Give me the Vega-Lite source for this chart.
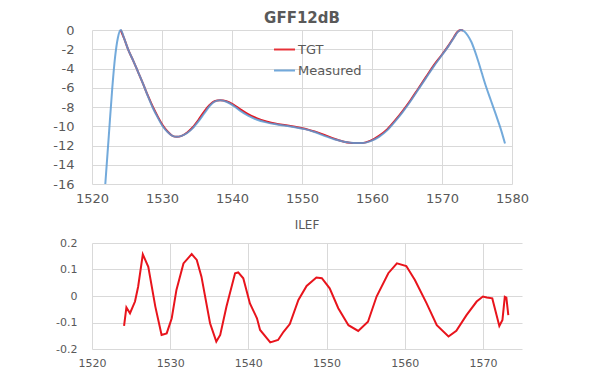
{
  "$schema": "https://vega.github.io/schema/vega-lite/v6.json",
  "padding": {"left": 52, "top": 11, "right": 5, "bottom": 5},
  "spacing": 14,
  "background": "white",
  "config": {
    "view": {"stroke": null},
    "font": "DejaVu Sans",
    "axis": {"gridColor": "#D9D9D9", "gridWidth": 1, "domain": false, "ticks": false, "tickSize": 0, "labelColor": "#595959", "labelFont": "DejaVu Sans", "title": null}
  },
  "datasets": {
    "gff": [
      {"wl": 1524.1, "db": 0, "series": "TGT"},
      {"wl": 1524.6, "db": -0.9, "series": "TGT"},
      {"wl": 1525.2, "db": -2.1, "series": "TGT"},
      {"wl": 1525.9, "db": -3.2, "series": "TGT"},
      {"wl": 1526.6, "db": -4.4, "series": "TGT"},
      {"wl": 1527.3, "db": -5.6, "series": "TGT"},
      {"wl": 1528.0, "db": -6.85, "series": "TGT"},
      {"wl": 1528.7, "db": -8.0, "series": "TGT"},
      {"wl": 1529.4, "db": -9.0, "series": "TGT"},
      {"wl": 1530.1, "db": -9.9, "series": "TGT"},
      {"wl": 1530.8, "db": -10.55, "series": "TGT"},
      {"wl": 1531.5, "db": -11.0, "series": "TGT"},
      {"wl": 1532.1, "db": -11.1, "series": "TGT"},
      {"wl": 1532.8, "db": -11.0, "series": "TGT"},
      {"wl": 1533.6, "db": -10.65, "series": "TGT"},
      {"wl": 1534.4, "db": -10.1, "series": "TGT"},
      {"wl": 1535.2, "db": -9.35, "series": "TGT"},
      {"wl": 1536.0, "db": -8.5, "series": "TGT"},
      {"wl": 1536.8, "db": -7.8, "series": "TGT"},
      {"wl": 1537.5, "db": -7.4, "series": "TGT"},
      {"wl": 1538.3, "db": -7.3, "series": "TGT"},
      {"wl": 1539.2, "db": -7.4, "series": "TGT"},
      {"wl": 1540.2, "db": -7.75, "series": "TGT"},
      {"wl": 1541.2, "db": -8.25, "series": "TGT"},
      {"wl": 1542.3, "db": -8.75, "series": "TGT"},
      {"wl": 1543.5, "db": -9.15, "series": "TGT"},
      {"wl": 1544.9, "db": -9.5, "series": "TGT"},
      {"wl": 1546.3, "db": -9.75, "series": "TGT"},
      {"wl": 1547.7, "db": -9.9, "series": "TGT"},
      {"wl": 1549.0, "db": -10.05, "series": "TGT"},
      {"wl": 1550.4, "db": -10.25, "series": "TGT"},
      {"wl": 1551.8, "db": -10.55, "series": "TGT"},
      {"wl": 1553.2, "db": -10.9, "series": "TGT"},
      {"wl": 1554.6, "db": -11.3, "series": "TGT"},
      {"wl": 1556.0, "db": -11.6, "series": "TGT"},
      {"wl": 1557.4, "db": -11.75, "series": "TGT"},
      {"wl": 1558.6, "db": -11.75, "series": "TGT"},
      {"wl": 1559.8, "db": -11.5, "series": "TGT"},
      {"wl": 1561.0, "db": -11.0, "series": "TGT"},
      {"wl": 1562.2, "db": -10.3, "series": "TGT"},
      {"wl": 1563.3, "db": -9.4, "series": "TGT"},
      {"wl": 1564.4, "db": -8.4, "series": "TGT"},
      {"wl": 1565.5, "db": -7.3, "series": "TGT"},
      {"wl": 1566.6, "db": -6.1, "series": "TGT"},
      {"wl": 1567.7, "db": -4.9, "series": "TGT"},
      {"wl": 1568.8, "db": -3.7, "series": "TGT"},
      {"wl": 1569.9, "db": -2.65, "series": "TGT"},
      {"wl": 1570.9, "db": -1.65, "series": "TGT"},
      {"wl": 1571.7, "db": -0.75, "series": "TGT"},
      {"wl": 1572.2, "db": -0.2, "series": "TGT"},
      {"wl": 1572.7, "db": 0, "series": "TGT"},
      {"wl": 1573.0, "db": -0.05, "series": "TGT"},
      {"wl": 1521.9, "db": -16, "series": "Measured"},
      {"wl": 1522.4, "db": -11, "series": "Measured"},
      {"wl": 1522.9, "db": -6, "series": "Measured"},
      {"wl": 1523.3, "db": -2.8, "series": "Measured"},
      {"wl": 1523.7, "db": -0.8, "series": "Measured"},
      {"wl": 1524.1, "db": 0, "series": "Measured"},
      {"wl": 1524.6, "db": -0.9, "series": "Measured"},
      {"wl": 1525.2, "db": -2.1, "series": "Measured"},
      {"wl": 1525.9, "db": -3.2, "series": "Measured"},
      {"wl": 1526.6, "db": -4.4, "series": "Measured"},
      {"wl": 1527.3, "db": -5.6, "series": "Measured"},
      {"wl": 1528.0, "db": -6.9, "series": "Measured"},
      {"wl": 1528.7, "db": -8.1, "series": "Measured"},
      {"wl": 1529.4, "db": -9.1, "series": "Measured"},
      {"wl": 1530.1, "db": -10.0, "series": "Measured"},
      {"wl": 1530.8, "db": -10.6, "series": "Measured"},
      {"wl": 1531.5, "db": -11.0, "series": "Measured"},
      {"wl": 1532.1, "db": -11.1, "series": "Measured"},
      {"wl": 1532.8, "db": -11.0, "series": "Measured"},
      {"wl": 1533.6, "db": -10.7, "series": "Measured"},
      {"wl": 1534.4, "db": -10.2, "series": "Measured"},
      {"wl": 1535.2, "db": -9.5, "series": "Measured"},
      {"wl": 1536.0, "db": -8.7, "series": "Measured"},
      {"wl": 1536.8, "db": -7.9, "series": "Measured"},
      {"wl": 1537.5, "db": -7.45, "series": "Measured"},
      {"wl": 1538.3, "db": -7.3, "series": "Measured"},
      {"wl": 1539.2, "db": -7.45, "series": "Measured"},
      {"wl": 1540.2, "db": -7.85, "series": "Measured"},
      {"wl": 1541.2, "db": -8.4, "series": "Measured"},
      {"wl": 1542.3, "db": -8.9, "series": "Measured"},
      {"wl": 1543.5, "db": -9.3, "series": "Measured"},
      {"wl": 1544.9, "db": -9.6, "series": "Measured"},
      {"wl": 1546.3, "db": -9.8, "series": "Measured"},
      {"wl": 1547.7, "db": -9.95, "series": "Measured"},
      {"wl": 1549.0, "db": -10.1, "series": "Measured"},
      {"wl": 1550.4, "db": -10.3, "series": "Measured"},
      {"wl": 1551.8, "db": -10.6, "series": "Measured"},
      {"wl": 1553.2, "db": -11.0, "series": "Measured"},
      {"wl": 1554.6, "db": -11.35, "series": "Measured"},
      {"wl": 1556.0, "db": -11.6, "series": "Measured"},
      {"wl": 1557.4, "db": -11.75, "series": "Measured"},
      {"wl": 1558.6, "db": -11.75, "series": "Measured"},
      {"wl": 1559.8, "db": -11.55, "series": "Measured"},
      {"wl": 1561.0, "db": -11.1, "series": "Measured"},
      {"wl": 1562.2, "db": -10.4, "series": "Measured"},
      {"wl": 1563.3, "db": -9.5, "series": "Measured"},
      {"wl": 1564.4, "db": -8.5, "series": "Measured"},
      {"wl": 1565.5, "db": -7.4, "series": "Measured"},
      {"wl": 1566.6, "db": -6.2, "series": "Measured"},
      {"wl": 1567.7, "db": -5.0, "series": "Measured"},
      {"wl": 1568.8, "db": -3.8, "series": "Measured"},
      {"wl": 1569.9, "db": -2.7, "series": "Measured"},
      {"wl": 1570.9, "db": -1.7, "series": "Measured"},
      {"wl": 1571.7, "db": -0.8, "series": "Measured"},
      {"wl": 1572.2, "db": -0.25, "series": "Measured"},
      {"wl": 1572.7, "db": 0, "series": "Measured"},
      {"wl": 1573.2, "db": -0.15, "series": "Measured"},
      {"wl": 1573.7, "db": -0.6, "series": "Measured"},
      {"wl": 1574.2, "db": -1.25, "series": "Measured"},
      {"wl": 1574.7, "db": -2.2, "series": "Measured"},
      {"wl": 1575.2, "db": -3.3, "series": "Measured"},
      {"wl": 1575.7, "db": -4.5, "series": "Measured"},
      {"wl": 1576.3, "db": -5.9, "series": "Measured"},
      {"wl": 1577.0, "db": -7.35, "series": "Measured"},
      {"wl": 1577.7, "db": -8.8, "series": "Measured"},
      {"wl": 1578.4, "db": -10.3, "series": "Measured"},
      {"wl": 1579.0, "db": -11.8, "series": "Measured"}
    ],
    "ilef": [
      {"wl": 1524.1, "v": -0.113},
      {"wl": 1524.4, "v": -0.043},
      {"wl": 1524.86, "v": -0.065},
      {"wl": 1525.5, "v": -0.021},
      {"wl": 1525.9, "v": 0.035},
      {"wl": 1526.5, "v": 0.157},
      {"wl": 1527.2, "v": 0.11},
      {"wl": 1528.1, "v": -0.04},
      {"wl": 1528.9, "v": -0.147},
      {"wl": 1529.55, "v": -0.141},
      {"wl": 1530.2, "v": -0.084},
      {"wl": 1530.8, "v": 0.023},
      {"wl": 1531.7, "v": 0.123},
      {"wl": 1532.75, "v": 0.158},
      {"wl": 1533.4, "v": 0.136},
      {"wl": 1534.0, "v": 0.073},
      {"wl": 1535.1, "v": -0.103},
      {"wl": 1535.9, "v": -0.172},
      {"wl": 1536.4, "v": -0.147},
      {"wl": 1537.2, "v": -0.04},
      {"wl": 1538.3, "v": 0.086},
      {"wl": 1538.7, "v": 0.089},
      {"wl": 1539.35, "v": 0.067},
      {"wl": 1540.2, "v": -0.028},
      {"wl": 1541.1, "v": -0.084},
      {"wl": 1541.5, "v": -0.128},
      {"wl": 1542.8, "v": -0.175},
      {"wl": 1543.8, "v": -0.166},
      {"wl": 1544.5, "v": -0.135},
      {"wl": 1545.3, "v": -0.106},
      {"wl": 1546.4, "v": -0.015},
      {"wl": 1547.45, "v": 0.038},
      {"wl": 1548.7, "v": 0.07},
      {"wl": 1549.4, "v": 0.067},
      {"wl": 1550.4, "v": 0.029},
      {"wl": 1551.5, "v": -0.046},
      {"wl": 1552.8, "v": -0.11},
      {"wl": 1554.05, "v": -0.132},
      {"wl": 1555.3, "v": -0.097},
      {"wl": 1556.4, "v": -0.002},
      {"wl": 1557.9, "v": 0.086},
      {"wl": 1559.0, "v": 0.123},
      {"wl": 1560.2, "v": 0.113},
      {"wl": 1561.3, "v": 0.06},
      {"wl": 1562.8, "v": -0.028},
      {"wl": 1564.1, "v": -0.11},
      {"wl": 1565.6, "v": -0.153},
      {"wl": 1566.6, "v": -0.131},
      {"wl": 1567.9, "v": -0.072},
      {"wl": 1569.2, "v": -0.021},
      {"wl": 1570.0, "v": -0.002},
      {"wl": 1570.5, "v": -0.006},
      {"wl": 1571.2, "v": -0.009},
      {"wl": 1572.1, "v": -0.113},
      {"wl": 1572.5, "v": -0.09},
      {"wl": 1572.8, "v": -0.003},
      {"wl": 1573.0, "v": -0.006},
      {"wl": 1573.25, "v": -0.072}
    ]
  },
  "vconcat": [
    {
      "width": 420,
      "height": 154,
      "title": {"text": "GFF12dB", "fontSize": 15, "fontWeight": "bold", "color": "#595959", "offset": -2, "font": "DejaVu Sans"},
      "data": {"name": "gff"},
      "encoding": {
        "x": {"field": "wl", "type": "quantitative", "scale": {"domain": [1520, 1580], "nice": false, "zero": false},
          "axis": {"values": [1520, 1530, 1540, 1550, 1560, 1570, 1580], "format": "d", "labelFontSize": 13, "labelPadding": 8, "labelFlush": false}},
        "y": {"field": "db", "type": "quantitative", "scale": {"domain": [-16, 0], "nice": false},
          "axis": {"values": [-16, -14, -12, -10, -8, -6, -4, -2, 0], "labelExpr": "toString(datum.value)", "labelFontSize": 13, "labelPadding": 18, "minExtent": 40, "maxExtent": 40}},
        "color": {"field": "series", "type": "nominal", "scale": {"domain": ["TGT", "Measured"], "range": ["#E8141C", "#5B9BD5"]},
          "legend": {"orient": "none", "legendX": 181, "legendY": 8, "title": null, "symbolType": "stroke", "symbolSize": 440, "symbolStrokeWidth": 2, "labelFontSize": 13, "labelColor": "#595959", "labelFont": "DejaVu Sans", "padding": 0, "rowPadding": 2, "labelOffset": 2}}
      },
      "layer": [
        {"transform": [{"filter": "datum.series === 'TGT'"}], "mark": {"type": "line", "strokeWidth": 2, "interpolate": "monotone"}},
        {"transform": [{"filter": "datum.series === 'Measured'"}], "mark": {"type": "line", "strokeWidth": 2, "opacity": 0.85, "interpolate": "monotone"}}
      ]
    },
    {
      "width": 430,
      "height": 106,
      "title": {"text": "ILEF", "fontSize": 12, "fontWeight": "normal", "color": "#595959", "offset": 5, "font": "DejaVu Sans"},
      "data": {"name": "ilef"},
      "mark": {"type": "line", "color": "#E8141C", "strokeWidth": 2},
      "encoding": {
        "x": {"field": "wl", "type": "quantitative", "scale": {"domain": [1520, 1575], "nice": false, "zero": false},
          "axis": {"values": [1520, 1530, 1540, 1550, 1560, 1570], "format": "d", "labelFontSize": 11, "labelPadding": 8, "labelFlush": false}},
        "y": {"field": "v", "type": "quantitative", "scale": {"domain": [-0.2, 0.2], "nice": false},
          "axis": {"values": [-0.2, -0.1, 0, 0.1, 0.2], "labelExpr": "toString(datum.value)", "labelFontSize": 11, "labelPadding": 15, "minExtent": 40, "maxExtent": 40}}
      }
    }
  ]
}
